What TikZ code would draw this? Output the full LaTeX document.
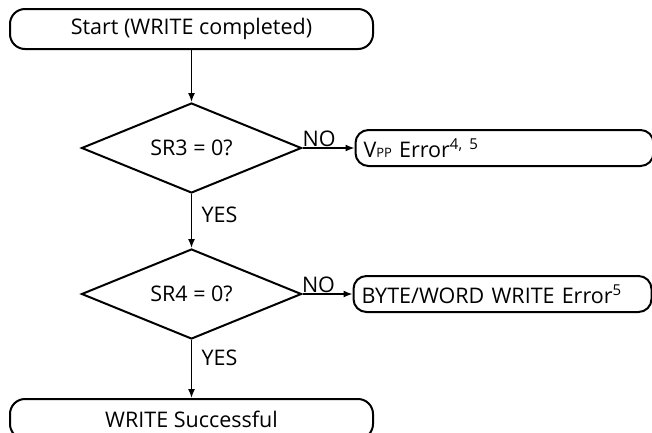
\documentclass[tikz,border=0pt]{standalone}
\usepackage{fontspec}
\setmainfont{Open Sans}
\usepackage{tikz}
\usetikzlibrary{positioning, shapes.geometric, arrows.meta}

\newcommand{\supnum}[1]{\raisebox{7.5pt}{\fontsize{15}{15}\selectfont #1}}
\newcommand{\vpp}{V{\fontsize{13}{13}\selectfont PP}}

\begin{document}
\begin{tikzpicture}[x=1pt, y=1pt, font=\fontsize{21.5}{24}\selectfont, terminal/.style={rectangle, draw=black, fill=white, line width=2pt, minimum width=363pt, minimum height=40pt, rounded corners=15pt, inner sep=0pt}, decision/.style={diamond, draw=black, fill=white, line width=2pt, minimum width=220pt, minimum height=90pt, aspect=2.44, inner sep=0pt}, errbox/.style={rectangle, draw=black, fill=white, line width=2pt, minimum height=36pt, text width=282pt, align=left, inner xsep=8pt, inner ysep=0pt, rounded corners=13pt}, flow/.style={-{Latex[length=9pt, width=7pt]}, line width=1.4pt}]

    \clip (0,0) rectangle (652,-432);

    % Nodes
    \node[terminal] (start)   at (191.5,-29)           {Start (WRITE completed)};
    \node[decision] (srthree) [below=52pt of start]    {SR3 = 0?};
    \node[decision] (srfour)  [below=54pt of srthree]  {SR4 = 0?};
    \node[terminal] (done)    [below=58pt of srfour]   {WRITE Successful};
    \node[errbox]   (vpperr)  [right=52pt of srthree]  {\vpp{} Error\supnum{4, 5}};
    \node[errbox]   (writeerr)[right=50pt of srfour]   {BYTE/WORD WRITE Error\supnum{5}};

    % Lines ---------------
    \draw[flow] (start.south) -- (srthree.north);
    \draw[flow] (srthree.south) -- node[right, xshift=6pt, pos=0.38] {YES} (srfour.north);
    \draw[flow] (srfour.south) -- node[right, xshift=6pt, pos=0.3] {YES} (done.north);
    \draw[flow] (srthree.east) -- node[above, inner sep=1pt, pos=0.32] {NO} (vpperr.west);
    \draw[flow] (srfour.east) -- node[above, inner sep=1pt, pos=0.32] {NO} (writeerr.west);

\end{tikzpicture}
\end{document}
